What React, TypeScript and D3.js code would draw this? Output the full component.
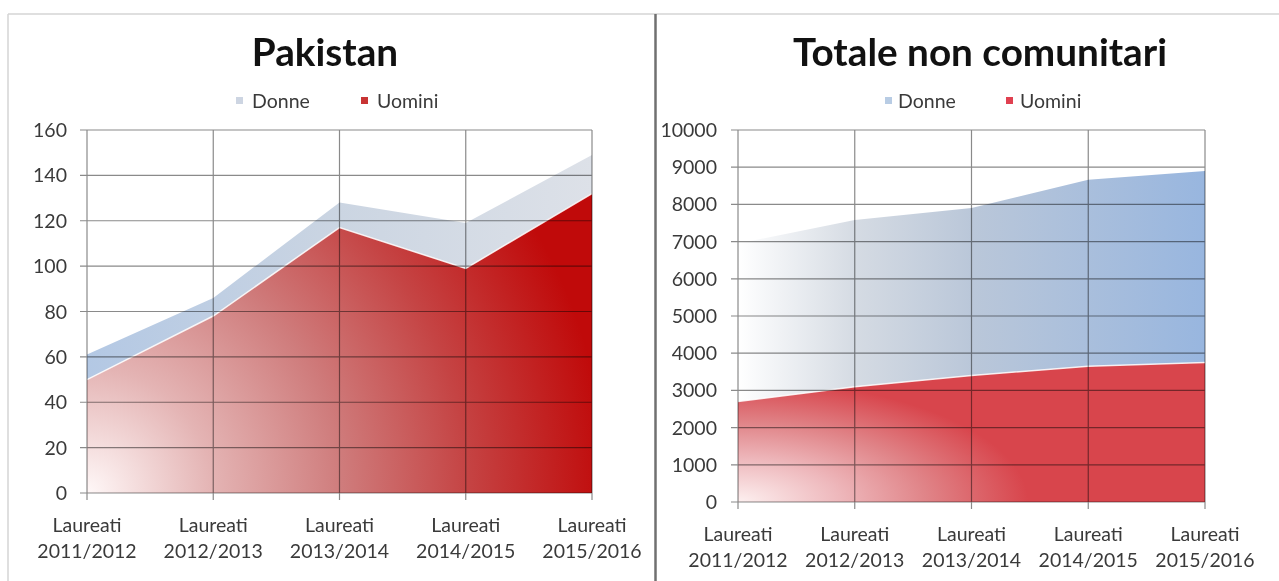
import React from "react";
import * as d3 from "d3";

const categories = ["2011/2012", "2012/2013", "2013/2014", "2014/2015", "2015/2016"];
const categoryPrefix = "Laureati";
const seriesNames = ["Donne", "Uomini"];

const pakUomini = [50, 78, 117, 99, 132];
const pakDonne = [11, 8, 11, 20, 17];
const pakTicks = [0, 20, 40, 60, 80, 100, 120, 140, 160];

const totUomini = [2700, 3100, 3400, 3650, 3750];
const totDonne = [4250, 4480, 4500, 5010, 5150];
const totTicks = [0, 1000, 2000, 3000, 4000, 5000, 6000, 7000, 8000, 9000, 10000];

const FONT = "Lato, 'Open Sans', sans-serif";
const TXT = "#3a3a3a";

type ChartProps = {
  id: string;
  title: string;
  titleX: number;
  uomini: number[];
  donne: number[];
  ticks: number[];
  x0: number;
  x1: number;
  yTop: number;
  yBottom: number;
  legendMarkers: [number, number];
  legendTexts: [number, number];
  donneFill: React.ReactNode;
  uominiFill: React.ReactNode;
  donneMarker: string;
  uominiMarker: string;
  labelGap: number;
};

function Chart(p: ChartProps) {
  const x = d3.scalePoint<string>().domain(categories).range([p.x0, p.x1]);
  const y = d3
    .scaleLinear()
    .domain([0, p.ticks[p.ticks.length - 1]])
    .range([p.yBottom, p.yTop]);
  const rows = categories.map((c, i) => ({ c, Uomini: p.uomini[i], Donne: p.donne[i] }));
  const stacked = d3.stack<any>().keys(["Uomini", "Donne"])(rows);
  const area = d3
    .area<any>()
    .x((d: any) => x(d.data.c) as number)
    .y0((d: any) => y(d[0]))
    .y1((d: any) => y(d[1]));
  const line = d3
    .line<any>()
    .x((d: any) => x(d.data.c) as number)
    .y((d: any) => y(d[1]));
  const gridColor = "#8a8a8a";
  const fmt = d3.format("d");
  return (
    <g>
      <defs>
        {p.donneFill}
        {p.uominiFill}
      </defs>
      <text
        x={p.titleX}
        y={66}
        textAnchor="middle"
        fontFamily={FONT}
        fontWeight={700}
        fontSize={38.7}
        fill="#111"
      >
        {p.title}
      </text>
      {/* legend */}
      <rect x={p.legendMarkers[0]} y={97} width={7} height={7} fill={p.donneMarker} />
      <text x={p.legendTexts[0]} y={108} fontFamily={FONT} fontSize={19.5} fill={TXT}>
        {seriesNames[0]}
      </text>
      <rect x={p.legendMarkers[1]} y={97} width={7} height={7} fill={p.uominiMarker} />
      <text x={p.legendTexts[1]} y={108} fontFamily={FONT} fontSize={19.5} fill={TXT}>
        {seriesNames[1]}
      </text>
      {/* areas */}
      <path d={area(stacked[1]) || ""} fill={`url(#${p.id}-donne)`} />
      <path d={area(stacked[0]) || ""} fill={`url(#${p.id}-uomini)`} />
      <path d={line(stacked[0]) || ""} fill="none" stroke="#fff" strokeOpacity={0.85} strokeWidth={1.5} />
      {/* grid */}
      <g style={{ mixBlendMode: "multiply" }}>
        {p.ticks.map((t) => (
          <line key={"h" + t} x1={p.x0 - 7} x2={p.x1} y1={y(t)} y2={y(t)} stroke={gridColor} strokeWidth={1.2} />
        ))}
        {categories.map((c) => (
          <line
            key={"v" + c}
            x1={x(c) as number}
            x2={x(c) as number}
            y1={p.yTop}
            y2={p.yBottom + 7}
            stroke={gridColor}
            strokeWidth={1.2}
          />
        ))}
      </g>
      {/* y labels */}
      {p.ticks.map((t) => (
        <text
          key={"yl" + t}
          x={p.x0 - p.labelGap}
          y={y(t)}
          dy="0.36em"
          textAnchor="end"
          fontFamily={FONT}
          fontSize={19.5}
          fill={TXT}
        >
          {fmt(t)}
        </text>
      ))}
      {/* x labels */}
      {categories.map((c) => (
        <text key={"xl" + c} textAnchor="middle" fontFamily={FONT} fontSize={19.5} fill={TXT}>
          <tspan x={x(c) as number} y={p.yBottom + 39}>
            {categoryPrefix}
          </tspan>
          <tspan x={x(c) as number} y={p.yBottom + 65}>
            {c}
          </tspan>
        </text>
      ))}
    </g>
  );
}

export default function App() {
  return (
    <svg
      width={1279}
      height={581}
      style={{ position: "absolute", left: 0, top: 0, background: "#fff" }}
    >
      <rect x={0} y={0} width={1279} height={581} fill="#fff" />
      <Chart
        id="pak"
        title="Pakistan"
        titleX={325}
        uomini={pakUomini}
        donne={pakDonne}
        ticks={pakTicks}
        x0={87}
        x1={592}
        yTop={130}
        yBottom={493}
        legendMarkers={[236, 361]}
        legendTexts={[252, 377]}
        labelGap={20}
        donneMarker="#cdd5e2"
        uominiMarker="#c83434"
        donneFill={
          <linearGradient id="pak-donne" x1="0" y1="0" x2="1" y2="0">
            <stop offset="0" stopColor="#b3c8e4" />
            <stop offset="0.5" stopColor="#cbd5e2" />
            <stop offset="1" stopColor="#dde1e8" />
          </linearGradient>
        }
        uominiFill={
          <radialGradient id="pak-uomini" gradientUnits="userSpaceOnUse" cx={87} cy={493} r={520}>
            <stop offset="0" stopColor="#fff8f8" />
            <stop offset="0.24" stopColor="#e4b4b4" />
            <stop offset="0.49" stopColor="#cf7c7c" />
            <stop offset="0.73" stopColor="#c54444" />
            <stop offset="1" stopColor="#c00a0a" />
          </radialGradient>
        }
      />
      <Chart
        id="tot"
        title="Totale non comunitari"
        titleX={980}
        uomini={totUomini}
        donne={totDonne}
        ticks={totTicks}
        x0={738}
        x1={1205}
        yTop={130}
        yBottom={502}
        legendMarkers={[885, 1006]}
        legendTexts={[898, 1020]}
        labelGap={21}
        donneMarker="#b8cce4"
        uominiMarker="#e04050"
        donneFill={
          <linearGradient id="tot-donne" x1="0" y1="0" x2="1" y2="0">
            <stop offset="0" stopColor="#ffffff" />
            <stop offset="0.25" stopColor="#d5dbe3" />
            <stop offset="0.5" stopColor="#bac7d9" />
            <stop offset="1" stopColor="#98b6df" />
          </linearGradient>
        }
        uominiFill={
          <radialGradient
            id="tot-uomini"
            gradientUnits="userSpaceOnUse"
            cx={738}
            cy={502}
            r={290}
            gradientTransform="translate(738 502) scale(1 0.42) translate(-738 -502)"
          >
            <stop offset="0" stopColor="#fdf0f0" />
            <stop offset="0.35" stopColor="#eeb8bc" />
            <stop offset="0.65" stopColor="#e08488" />
            <stop offset="1" stopColor="#d8454c" />
          </radialGradient>
        }
      />
      {/* frame */}
      <line x1={8} x2={1279} y1={14} y2={14} stroke="#d4d4d4" strokeWidth={1.5} />
      <line x1={8} x2={8} y1={14} y2={581} stroke="#d4d4d4" strokeWidth={1.5} />
      <line x1={655.5} x2={655.5} y1={14} y2={581} stroke="#707070" strokeWidth={2.5} />
    </svg>
  );
}
